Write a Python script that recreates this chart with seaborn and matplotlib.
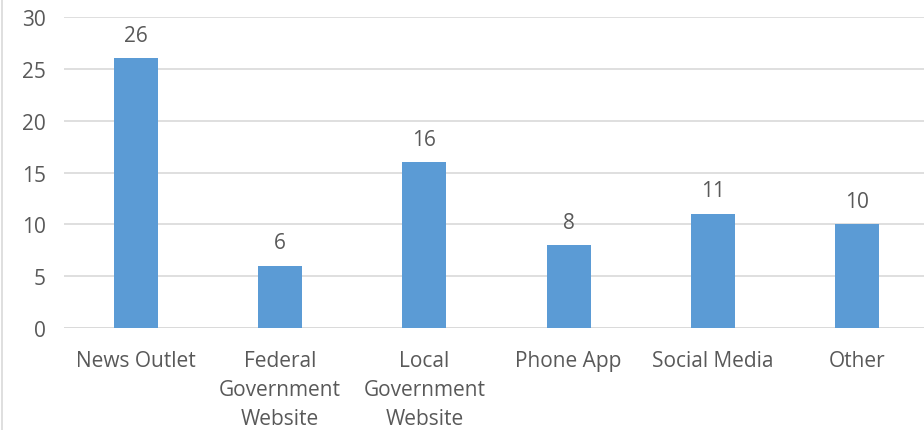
import matplotlib
matplotlib.use("Agg")
import matplotlib.pyplot as plt
import seaborn as sns
import pandas as pd
from matplotlib.lines import Line2D

categories = ["News Outlet", "Federal\nGovernment\nWebsite", "Local\nGovernment\nWebsite",
              "Phone App", "Social Media", "Other"]
values = [26, 6, 16, 8, 11, 10]
yticks = [0, 5, 10, 15, 20, 25, 30]

sns.set_style("white")
plt.rcParams['font.family'] = ['Open Sans', 'DejaVu Sans']

TXT = "#595959"
FS = 15
fig = plt.figure(figsize=(9.24, 4.31), dpi=100)
ax = fig.add_axes([64/924, 102/431, (929-64)/924, 311/431])

df = pd.DataFrame({"cat": categories, "val": values})
sns.barplot(data=df, x="cat", y="val", color="#5B9BD5", saturation=1, width=0.305,
            linewidth=0, ax=ax)

ax.set_ylim(0, 30)
ax.set_yticks(yticks)
ax.set_xlim(-0.5, len(categories) - 0.5)
ax.grid(axis="y", color="#D9D9D9", linewidth=1.2)
ax.set_axisbelow(True)
for s in ax.spines.values():
    s.set_visible(False)
ax.axhline(0, color="#D9D9D9", linewidth=1.2, zorder=0)
ax.set_xlabel("")
ax.set_ylabel("")
ax.tick_params(axis="y", length=0, pad=13, labelsize=FS, labelcolor=TXT)
ax.tick_params(axis="x", length=0, pad=16, labelsize=FS, labelcolor=TXT)
for lab in ax.get_xticklabels():
    lab.set_linespacing(1.5)

for c in ax.containers:
    ax.bar_label(c, labels=[str(v) for v in values], padding=9, fontsize=FS, color=TXT)

fig.add_artist(Line2D([2/924, 2/924], [0, 1], transform=fig.transFigure, color="#D9D9D9", linewidth=1.2))

fig.savefig("out.png", dpi=100)
